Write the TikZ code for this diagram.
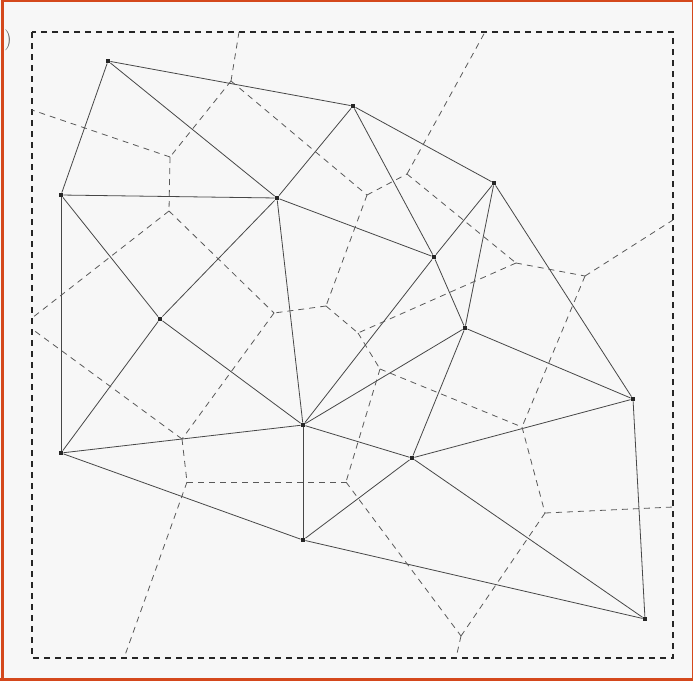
\documentclass[tikz,border=0pt]{standalone}
\begin{document}
\begin{tikzpicture}[x=1pt,y=-1pt,
  site/.style={fill=black!85,rectangle,minimum size=4.5pt,inner sep=0pt},
  del/.style={draw=black!72,line width=0.8pt},
  vor/.style={draw=black!65,line width=0.8pt,dash pattern=on 6pt off 5pt},
  bbox/.style={draw=black!85,line width=2.5pt,dash pattern=on 6pt off 5pt},
  frame/.style={draw={rgb,255:red,212;green,72;blue,28},line width=2.5pt}]
\useasboundingbox (0,0) rectangle (693,681);
\fill[black!3] (0,0) rectangle (693,681);
\draw[frame] (2.5,1.2) -- (692,1.2);
\draw[frame] (2.5,0) -- (2.5,681);
\draw[frame] (0,679.5) -- (693,679.5);
\draw[frame,line width=1pt] (692.5,0) -- (692.5,681);
\node[text=black!70,font=\fontsize{21}{24}\selectfont,inner sep=0pt] (paren) at (8,40) {)};
% dashed bounding box
\coordinate (b1) at (32,32);
\coordinate (b2) at (673,658);
\draw[bbox] (b1) rectangle (b2);
% sites
\node[site] (A) at (108,61) {};
\node[site] (B) at (353,106) {};
\node[site] (C) at (494,183) {};
\node[site] (D) at (61,195) {};
\node[site] (E) at (277,198) {};
\node[site] (F) at (434,257) {};
\node[site] (G) at (160,319) {};
\node[site] (H) at (465,328) {};
\node[site] (I) at (633,399) {};
\node[site] (J) at (303,425) {};
\node[site] (K) at (61,453) {};
\node[site] (L) at (412,458) {};
\node[site] (M) at (303,540) {};
\node[site] (N) at (645,619) {};
% Delaunay edges
\foreach \p/\q in {A/B,A/E,A/D,D/E,D/G,D/K,B/E,B/F,B/C,C/F,C/H,C/I,E/F,E/G,E/J,F/H,F/J,G/J,G/K,K/J,K/M,J/M,J/L,J/H,H/L,H/I,L/I,L/M,L/N,M/N,I/N}
  \draw[del] (\p) -- (\q);
% Voronoi vertices
\coordinate (vABE) at (231,81);
\coordinate (vADE) at (170,157);
\coordinate (vDEG) at (169,211);
\coordinate (vBEF) at (367,195);
\coordinate (vBCF) at (407,174);
\coordinate (vCFH) at (516,263);
\coordinate (vCHI) at (585,276);
\coordinate (vEFJ) at (326,306);
\coordinate (vEGJ) at (274,313);
\coordinate (vGJK) at (182,439);
\coordinate (vFHJ) at (358,333);
\coordinate (vJHL) at (380,369);
\coordinate (vHLI) at (522,427);
\coordinate (vJKM) at (187,482);
\coordinate (vJLM) at (346,482);
\coordinate (vLMN) at (461,636);
\coordinate (vLIN) at (545,513);
% free ends on the box
\coordinate (tAB) at (239,32);
\coordinate (tBC) at (485,32);
\coordinate (rCI) at (673,220);
\coordinate (rIN) at (673,507);
\coordinate (bMN) at (456,658);
\coordinate (bKM) at (124,658);
\coordinate (lDA) at (32,110);
\coordinate (lDG) at (32,318);
\coordinate (lGK) at (32,329);
% Voronoi edges
\foreach \p/\q in {vABE/vADE,vADE/vDEG,vDEG/lDG,vGJK/lGK,vABE/vBEF,vBEF/vBCF,vBCF/vCFH,vCFH/vCHI,vBEF/vEFJ,vDEG/vEGJ,vEFJ/vEGJ,vCFH/vFHJ,vEFJ/vFHJ,vEGJ/vGJK,vGJK/vJKM,vJKM/vJLM,vFHJ/vJHL,vJHL/vJLM,vJHL/vHLI,vCHI/vHLI,vHLI/vLIN,vJLM/vLMN,vLMN/vLIN,vABE/tAB,vBCF/tBC,vCHI/rCI,vLIN/rIN,vLMN/bMN,vJKM/bKM,vADE/lDA}
  \draw[vor] (\p) -- (\q);
\end{tikzpicture}
\end{document}
